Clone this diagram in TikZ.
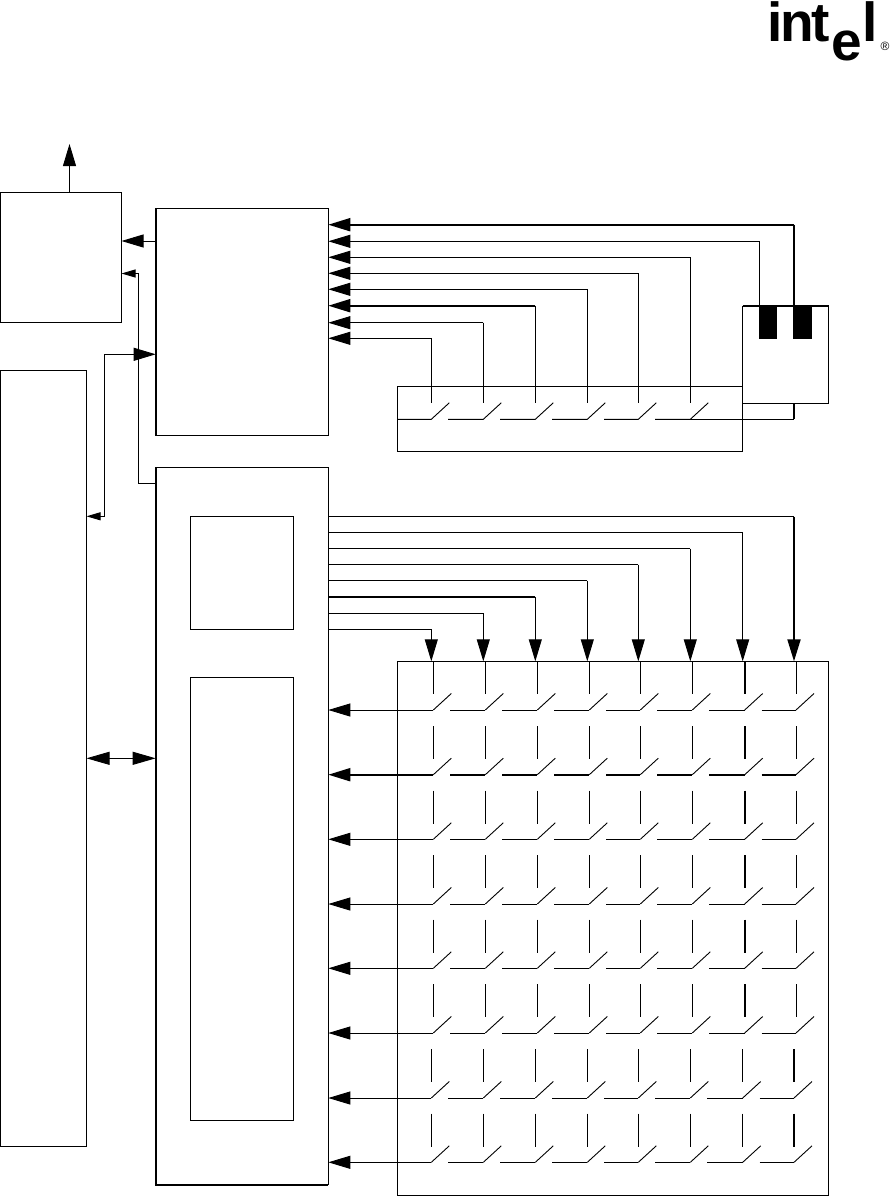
\documentclass[tikz,border=0pt]{standalone}
\usepackage{fontspec}
\setmainfont{Liberation Sans}
\usetikzlibrary{arrows.meta,calc}
\tikzset{
  blockbox/.style={draw, line width=0.9pt, inner sep=0pt, outer sep=0pt},
  sigline/.style={line width=0.9pt},
  heavyline/.style={line width=2pt},
  flowarrow/.style={-{Triangle[length=22pt, width=13pt]}, line width=0.9pt},
  tinyarrow/.style={-{Triangle[length=14pt, width=8pt]}, line width=0.9pt},
  logotext/.style={inner sep=0pt, outer sep=0pt, anchor=base west, font=\fontsize{55}{55}\selectfont\bfseries}
}
\begin{document}
\begin{tikzpicture}[x=1pt, y=-1pt]
  \useasboundingbox (0,0) rectangle (892,1196);
  % blocks
  \node[blockbox, minimum width=121pt, minimum height=130.2pt] (sysbox) at (61,257.4) {};
  \node[blockbox, minimum width=86pt, minimum height=776.3pt] (hostbox) at (43.5,758.15) {};
  \node[blockbox, minimum width=172.6pt, minimum height=226.5pt] (gpibox) at (242,321.75) {};
  \node[blockbox, minimum width=172.6pt, minimum height=717.2pt] (scanbox) at (242,826.1) {};
  \node[blockbox, minimum width=103.4pt, minimum height=113pt] (rowbox) at (242,572.8) {};
  \node[blockbox, minimum width=103.4pt, minimum height=443pt] (colbox) at (242,898.8) {};
  \node[blockbox, minimum width=345.4pt, minimum height=65.3pt] (stripbox) at (570,418.65) {};
  \node[blockbox, minimum width=86pt, minimum height=97.3pt] (lockbox) at (785.7,354.65) {};
  \node[blockbox, minimum width=431.2pt, minimum height=533.7pt] (matrixbox) at (612.9,928.15) {};
  \draw[heavyline] (gpibox.south west) -- (gpibox.north west);
  \draw[heavyline] (scanbox.north west) -- (scanbox.south west) -- (scanbox.south east);
  \draw[heavyline] (lockbox.north west) -- (lockbox.north east);
  \node[fill=black, minimum width=17.7pt, minimum height=32.7pt, inner sep=0pt, outer sep=0pt] (keya) at (768.2,322.35) {};
  \node[fill=black, minimum width=19pt, minimum height=32.7pt, inner sep=0pt, outer sep=0pt] (keyb) at (802.5,322.35) {};

  % left side links
  \coordinate (outtip) at (69.5,144);
  \coordinate (uplink) at (138.5,483.5);
  \coordinate (hostlink) at (104.5,516.3);
  \draw[flowarrow] (sysbox.north -| outtip) -- (outtip);
  \draw[flowarrow] (gpibox.west |- 0,241) -- (sysbox.east |- 0,241);
  \draw[sigline] (scanbox.west |- uplink) -- (uplink) -- (uplink |- 0,273.5);
  \draw[tinyarrow] (uplink |- 0,273.5) -- (sysbox.east |- 0,273.5);
  \draw[tinyarrow] (hostlink) -- (hostbox.east |- hostlink);
  \draw[flowarrow] (hostlink) |- (gpibox.west |- 0,354.3);
  \draw[{Triangle[length=23pt, width=13pt]}-{Triangle[length=23pt, width=13pt]}, line width=0.9pt] (hostbox.east |- 0,758.3) -- (scanbox.west |- 0,758.3);

  % lock switch and the top strip
  \coordinate (railb) at (794,224.7);
  \coordinate (raila) at (759.3,241.3);
  \coordinate (lockfoot) at (794,419.3);
  \draw[flowarrow, heavyline] (railb) -- (gpibox.east |- railb);
  \draw[heavyline] (railb) -- (railb |- lockbox.north);
  \draw[flowarrow] (raila) -- (gpibox.east |- raila);
  \draw[sigline] (raila) -- (raila |- lockbox.north);
  \foreach \tx/\ty/\tw/\sx in {690.3/257.3/0.9/655, 638.3/273.3/0.9/604, 587.3/289.3/0.9/552, 535.3/305.7/2/500, 483.3/322.7/0.9/448, 431.3/338.3/0.9/397.3} {
    \coordinate (tap) at (\tx,\ty);
    \draw[flowarrow, line width=\tw pt] (tap) -- (gpibox.east |- tap);
    \draw[sigline] (tap) -- (\tx,403.3);
    \draw[sigline] (\sx,419.3) -- (\tx,419.3) -- ++(18,-16.5);
  }
  \draw[sigline] (690.3,419.3) -- (lockfoot);
  \draw[heavyline] (lockfoot) -- (lockfoot |- lockbox.south);

  % scan lines into the matrix
  \foreach \ax/\ay/\aw in {794/516.6/2, 742.7/532.8/0.9, 690.3/548.7/0.9, 638.3/564.7/0.9, 587.3/580.7/0.9, 535.3/596.7/0.9, 483.3/613.3/0.9, 431.3/629.3/0.9} {
    \coordinate (bend) at (\ax,\ay);
    \draw[sigline] (scanbox.east |- bend) -- (bend);
    \draw[flowarrow, line width=\aw pt] (bend) -- (bend |- matrixbox.north);
  }
  \draw[heavyline] (scanbox.east |- 0,596.7) -- (535.3,596.7);

  % key matrix
  \foreach \ry/\rs/\rw/\tc [count=\rownum] in {710/2/0.9/7, 774.7/2/2/7, 839.3/2/0.9/7, 904/2/0.9/7, 968.3/2/0.9/7, 1033/2/0.9/7, 1098/0/0.9/8, 1162.3/0/0.9/8} {
    \coordinate (rowend) at (431.3+\rs,\ry);
    \draw[flowarrow, line width=\rw pt] (rowend) -- (scanbox.east |- rowend);
    \foreach \cx [count=\colnum, remember=\cx as \px (initially 381.3)] in {431.3,483.3,535.3,587.3,638.3,690.3,742.7,794} {
      \pgfmathsetmacro\vw{\colnum==\tc ? 2 : 0.9}
      \draw[line width=\vw pt] (\cx+\rs,\ry-48.7) -- (\cx+\rs,\ry-15.7);
      \ifnum\colnum>1
        \draw[line width=\rw pt] (\px+\rs+17,\ry) -- (\cx+\rs,\ry);
      \fi
      \draw[sigline] (\cx+\rs,\ry) -- ++(18,-16.5);
    }
  }

  % logo
  \node[logotext] (logoint) at (767,42) {i\kern-1.5pt n\kern-3pt t};
  \node[logotext] (logoe) at (831,60.5) {e};
  \node[logotext] (logol) at (862,41.5) {l};
  \node[inner sep=0pt, font=\fontsize{12}{12}\selectfont] (logor) at (885,46.5) {®};
\end{tikzpicture}
\end{document}
